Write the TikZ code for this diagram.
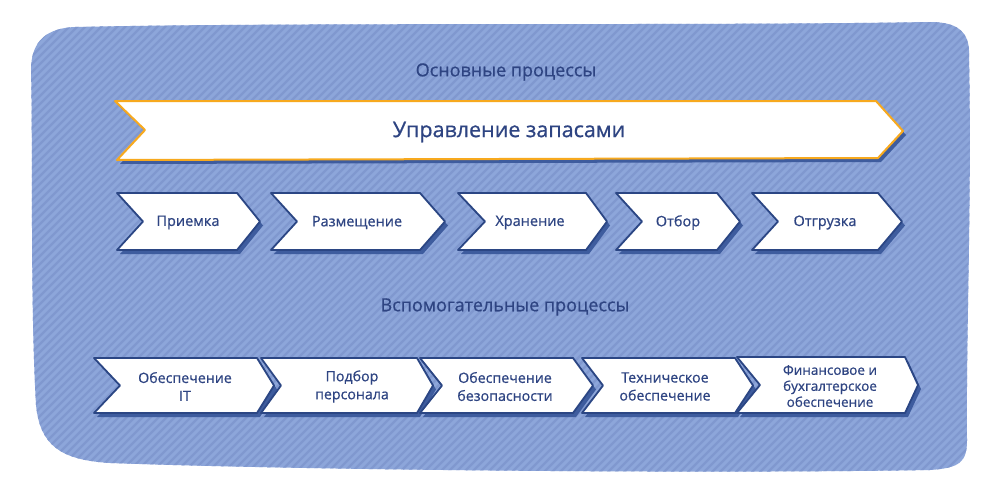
\documentclass[tikz,border=0pt]{standalone}
\usepackage{fontspec}
\setmainfont{Open Sans}
\newfontfamily\thickfont[FakeBold=0.7]{Open Sans}
\usetikzlibrary{calc}
\definecolor{bgblue}{HTML}{8DA6DA}
\definecolor{stripe}{HTML}{8098CF}
\definecolor{shadowc}{HTML}{3E5C9E}
\definecolor{borderc}{HTML}{2B4684}
\definecolor{textc}{HTML}{2E4482}
\definecolor{orangec}{HTML}{F7A91E}
\tikzset{
  chevbox/.style={fill=white, draw=borderc, line width=1.8pt, line join=round},
  chevshadow/.style={fill=shadowc},
  bigbox/.style={fill=white, draw=orangec, line width=2pt, line join=round},
  lbl/.style={text=textc, font=\thickfont\fontsize{14.5}{17}\selectfont, align=center, inner sep=0pt},
  lbltwo/.style={text=textc, font=\thickfont\fontsize{14.2}{18}\selectfont, align=center, inner sep=0pt},
  lblthree/.style={text=textc, font=\thickfont\fontsize{13.5}{16}\selectfont, align=center, inner sep=0pt},
  heading/.style={text=textc, font=\thickfont\fontsize{18}{21}\selectfont, inner sep=0pt},
}
% #1 name, #2 left x, #3 notch x, #4 right x, #5 tip x, #6 top y, #7 bottom y, #8 text style, #9 text x
\newcommand\mychev[9]{%
  \pgfmathsetmacro\ymid{(#6+#7)/2}
  \fill[chevshadow,shift={(3,4)}] (#2,#6) -- (#4,#6) -- (#5,\ymid) -- (#4,#7) -- (#2,#7) -- (#3,\ymid) -- cycle;
  \draw[chevbox] (#2,#6) -- (#4,#6) -- (#5,\ymid) -- (#4,#7) -- (#2,#7) -- (#3,\ymid) -- cycle;
  \node[#8] (#1) at (#9,\ymid+1)
}
\begin{document}
\begin{tikzpicture}[x=1pt,y=-1pt]
\useasboundingbox (0,0) rectangle (1000,498);
% background blob
\def\blob{(75,27) .. controls (300,22) and (700,26) .. (930,22)
  .. controls (955,22) and (970,30) .. (969,55)
  .. controls (972,200) and (966,330) .. (967,440)
  .. controls (967,462) and (960,468) .. (930,470)
  .. controls (700,474) and (300,470) .. (110,463)
  .. controls (60,460) and (40,445) .. (36,405)
  .. controls (30,300) and (33,150) .. (31,70)
  .. controls (31,40) and (48,28) .. (75,27) -- cycle}
\fill[bgblue] \blob;
\begin{scope}
  \clip \blob;
  \foreach \i in {-500,-492,...,1000}
    \draw[stripe, line width=2.4pt] (\i,500) -- (\i+500,0);
\end{scope}
% headings
\node[heading] (main) at (506,72) {Основные процессы};
\node[heading] (aux) at (505,307) {Вспомогательные процессы};
% big arrow
\fill[chevshadow,shift={(3,4)}] (115,101) -- (876,101) -- (903,131) -- (878,158) -- (117,160) -- (145,130) -- cycle;
\draw[bigbox] (115,101) -- (876,101) -- (903,131) -- (878,158) -- (117,160) -- (145,130) -- cycle;
\node[text=textc, font=\thickfont\fontsize{21.5}{25}\selectfont, inner sep=0pt] (inv) at (509,132) {Управление запасами};
% row 1
\mychev{r1}{117}{143}{237}{260}{193}{250}{lbl}{188}{Приемка};
\mychev{r2}{271}{297}{420}{445}{193}{250}{lbl}{357}{Размещение};
\mychev{r3}{458}{485}{586}{607}{193}{250}{lbl}{530}{Хранение};
\mychev{r4}{616}{642}{717}{740}{193}{250}{lbl}{678}{Отбор};
\mychev{r5}{752}{778}{878}{902}{193}{250}{lbl}{825}{Отгрузка};
% row 2
\mychev{s1}{94}{120}{257}{274}{358}{413}{lbltwo}{185}{Обеспечение\\IT};
\mychev{s2}{261}{281}{417}{433}{358}{413}{lbltwo}{352}{Подбор\\персонала};
\mychev{s3}{420}{442}{573}{593}{358}{413}{lbltwo}{505}{Обеспечение\\безопасности};
\mychev{s4}{582}{603}{735}{753}{358}{413}{lbltwo}{665}{Техническое\\обеспечение};
\mychev{s5}{737}{760}{905}{918}{357}{413}{lblthree}{830}{Финансовое и\\бухгалтерское\\обеспечение};
\end{tikzpicture}
\end{document}
